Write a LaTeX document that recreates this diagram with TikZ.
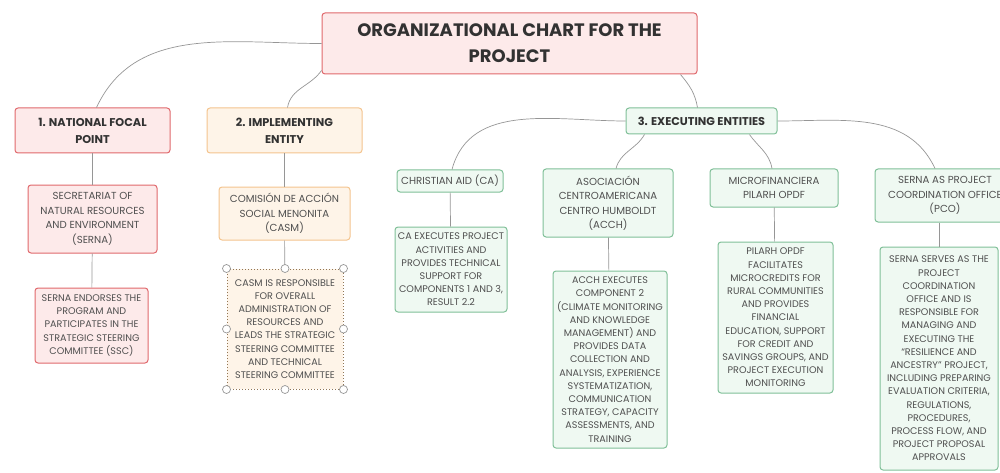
\documentclass[tikz,border=0pt]{standalone}
\usepackage{fontspec}
\setmainfont{Poppins}
\definecolor{pinkfill}{RGB}{253,234,234}
\definecolor{pinkline}{RGB}{224,104,108}
\definecolor{orangefill}{RGB}{254,244,232}
\definecolor{orangeline}{RGB}{244,196,142}
\definecolor{greenfill}{RGB}{239,249,242}
\definecolor{greenline}{RGB}{128,192,152}
\definecolor{linkgray}{RGB}{150,150,150}
\definecolor{textdark}{RGB}{50,50,50}
\definecolor{textgray}{RGB}{80,80,80}
\begin{document}
\begin{tikzpicture}[x=1pt,y=-1pt,
  every node/.style={align=center,rounded corners=3pt,line width=1pt,inner sep=1pt},
  head/.style={font=\fontsize{11.3}{17}\selectfont\bfseries,text=textdark},
  sub/.style={font=\fontsize{10.2}{14.5}\selectfont,text=textgray},
  desc/.style={font=\fontsize{9.6}{13.2}\selectfont,text=textgray},
  pinkbox/.style={draw=pinkline,fill=pinkfill},
  orangebox/.style={draw=orangeline,fill=orangefill},
  greenbox/.style={draw=greenline,fill=greenfill},
  link/.style={draw=linkgray,line width=0.7pt},
  handle/.style={draw=linkgray,fill=white,line width=0.7pt}]
\useasboundingbox (0,0) rectangle (1000,473);

\node[pinkbox,font=\fontsize{18}{26}\selectfont\bfseries,text=textdark,
      minimum width=375pt,minimum height=61pt] (root) at (509.5,43.5) {ORGANIZATIONAL CHART FOR THE\\PROJECT};

\node[pinkbox,  head,minimum width=155pt,minimum height=45pt] (n1) at (92.5,130.5) {1. NATIONAL FOCAL\\POINT};
\node[orangebox,head,minimum width=155pt,minimum height=45pt] (n2) at (284.5,130.5) {2. IMPLEMENTING\\ENTITY};
\node[greenbox, head,minimum width=151pt,minimum height=26pt] (n3) at (701.5,121) {3. EXECUTING ENTITIES};

\node[pinkbox,sub, minimum width=129pt,minimum height=68pt] (n11) at (92.5,219) {SECRETARIAT OF\\NATURAL RESOURCES\\AND ENVIRONMENT\\(SERNA)};
\node[pinkbox,desc,minimum width=113pt,minimum height=75pt] (n12) at (91.5,325.5) {SERNA ENDORSES THE\\PROGRAM AND\\PARTICIPATES IN THE\\STRATEGIC STEERING\\COMMITTEE (SSC)};

\node[orangebox,sub,minimum width=131pt,minimum height=53pt] (n21) at (284.5,213.5) {COMISIÓN DE ACCIÓN\\SOCIAL MENONITA\\(CASM)};
\node[orangebox,desc,draw=orangeline!60!black,dotted,rounded corners=0pt,
      minimum width=116pt,minimum height=120pt] (n22) at (285,329) {CASM IS RESPONSIBLE\\FOR OVERALL\\ADMINISTRATION OF\\RESOURCES AND\\LEADS THE STRATEGIC\\STEERING COMMITTEE\\AND TECHNICAL\\STEERING COMMITTEE};

\node[greenbox,sub, minimum width=106pt,minimum height=22pt] (e31) at (450,181) {CHRISTIAN AID (CA)};
\node[greenbox,desc,minimum width=112pt,minimum height=85pt] (d31) at (451,269.5) {CA EXECUTES PROJECT\\ACTIVITIES AND\\PROVIDES TECHNICAL\\SUPPORT FOR\\COMPONENTS 1 AND 3,\\RESULT 2.2};

\node[greenbox,sub, minimum width=130pt,minimum height=68pt] (e32) at (608,203) {ASOCIACIÓN\\CENTROAMERICANA\\CENTRO HUMBOLDT\\(ACCH)};
\node[greenbox,desc,minimum width=114pt,minimum height=177pt] (d32) at (610,359.5) {ACCH EXECUTES\\COMPONENT 2\\(CLIMATE MONITORING\\AND KNOWLEDGE\\MANAGEMENT) AND\\PROVIDES DATA\\COLLECTION AND\\ANALYSIS, EXPERIENCE\\SYSTEMATIZATION,\\COMMUNICATION\\STRATEGY, CAPACITY\\ASSESSMENTS, AND\\TRAINING};

\node[greenbox,sub, minimum width=128pt,minimum height=38pt] (e33) at (774,188) {MICROFINANCIERA\\PILARH OPDF};
\node[greenbox,desc,minimum width=115pt,minimum height=151pt] (d33) at (775.5,317.5) {PILARH OPDF\\FACILITATES\\MICROCREDITS FOR\\RURAL COMMUNITIES\\AND PROVIDES\\FINANCIAL\\EDUCATION, SUPPORT\\FOR CREDIT AND\\SAVINGS GROUPS, AND\\PROJECT EXECUTION\\MONITORING};

\node[greenbox,sub, minimum width=140pt,minimum height=53pt] (e34) at (945,195.5) {SERNA AS PROJECT\\COORDINATION OFFICE\\(PCO)};
\node[greenbox,desc,minimum width=118pt,minimum height=223pt] (d34) at (939,358.5) {SERNA SERVES AS THE\\PROJECT\\COORDINATION\\OFFICE AND IS\\RESPONSIBLE FOR\\MANAGING AND\\EXECUTING THE\\“RESILIENCE AND\\ANCESTRY” PROJECT,\\INCLUDING PREPARING\\EVALUATION CRITERIA,\\REGULATIONS,\\PROCEDURES,\\PROCESS FLOW, AND\\PROJECT PROPOSAL\\APPROVALS};

% curved links from the title and from the executing entities
\draw[link] (root.west) to[out=180,in=65] ([xshift=4pt]n1.north);
\draw[link] ([yshift=4pt]root.south west) to[out=235,in=80] ([xshift=3pt]n2.north);
\draw[link] ([xshift=-17pt]root.south east) to[out=-50,in=100] ([xshift=-4pt]n3.north);
\draw[link] (n3.west) to[out=180,in=75] ([xshift=2pt]e31.north);
\draw[link] ([xshift=-57pt]n3.south) to[out=240,in=75] ([xshift=8pt]e32.north);
\draw[link] ([xshift=48pt]n3.south) to[out=-55,in=100] ([xshift=-2pt]e33.north);
\draw[link] (n3.east) to[out=0,in=115] ([xshift=-10pt]e34.north);

% straight links
\draw[link] (n1) -- (n11);
\draw[link] (n11) -- (n12);
\draw[link] (n2) -- (n21);
\draw[link] (n21) -- (n22);
\draw[link] (e31) -- (d31);
\draw[link] (e32) -- (d32);
\draw[link] (e33) -- (d33);
\draw[link] (e34.south -| d34.north) -- (d34.north);

% selection handles
\draw[handle] (n22.north west) circle (4);
\draw[handle] (n22.north) circle (4);
\draw[handle] (n22.north east) circle (4);
\draw[handle] (n22.west) circle (4);
\draw[handle] (n22.east) circle (4);
\draw[handle] (n22.south west) circle (4);
\draw[handle] (n22.south) circle (4);
\draw[handle] (n22.south east) circle (4);
\end{tikzpicture}
\end{document}
